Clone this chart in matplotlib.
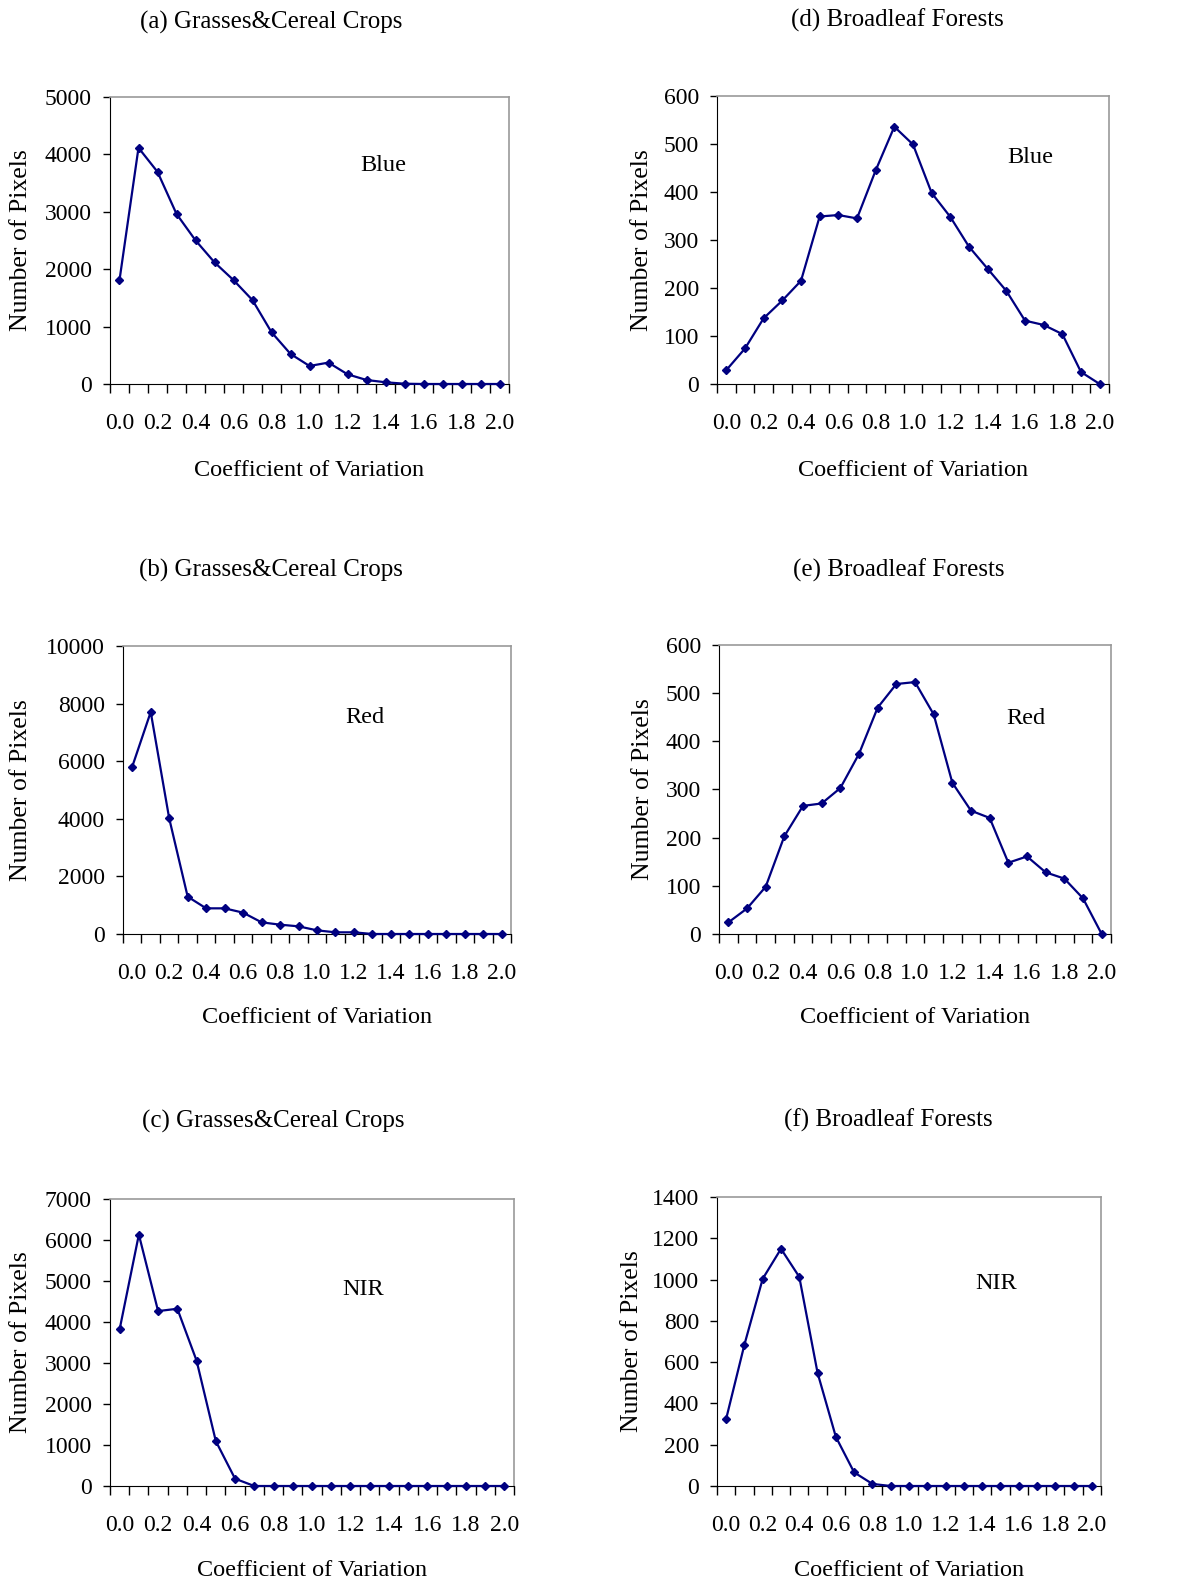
import matplotlib.pyplot as plt
import numpy as np

plt.rcParams['font.family'] = ['Liberation Serif', 'DejaVu Serif']

W, H = 1189, 1585

cv_labels = ["0.0", "0.2", "0.4", "0.6", "0.8", "1.0", "1.2", "1.4", "1.6", "1.8", "2.0"]
n_bins = 21  # CV classes 0.0, 0.1, ... 2.0

# Grasses & cereal crops
grass_blue = [1810, 4115, 3696, 2963, 2503, 2119, 1810, 1461, 902, 524, 314,
              373, 169, 70, 30, 5, 0, 0, 0, 0, 0]
grass_red = [5810, 7708, 4016, 1296, 891, 891, 741, 405, 324, 266, 127,
             58, 58, 0, 0, 0, 0, 0, 0, 0, 0]
grass_nir = [3820, 6132, 4266, 4323, 3058, 1095, 178, 0, 0, 0, 0,
             0, 0, 0, 0, 0, 0, 0, 0, 0, 0]

# Broadleaf forests
forest_blue = [29, 74, 137, 174, 215, 349, 352, 345, 445, 536, 499,
               398, 348, 286, 240, 194, 132, 123, 104, 25, 0]
forest_red = [24, 53, 98, 203, 266, 271, 303, 374, 470, 519, 523,
              456, 314, 256, 241, 148, 161, 128, 115, 74, 0]
forest_nir = [325, 685, 1004, 1149, 1013, 548, 238, 66, 10, 0, 0,
              0, 0, 0, 0, 0, 0, 0, 0, 0, 0]

panels = [
    # title, band, data, ymax, ystep, box (l, r, top, bottom px), title pos, band pos, ylabel x, xlabel y
    ("(a) Grasses&Cereal Crops", "Blue", grass_blue, 5000, 1000, (110, 509, 97, 384), (271, 22), (0.684, 0.763), 21, 470),
    ("(b) Grasses&Cereal Crops", "Red", grass_red, 10000, 2000, (123, 511, 646, 934), (271, 570), (0.624, 0.753), 21, 1018),
    ("(c) Grasses&Cereal Crops", "NIR", grass_nir, 7000, 1000, (110, 514, 1199, 1486), (273, 1121), (0.626, 0.686), 21, 1570),
    ("(d) Broadleaf Forests", "Blue", forest_blue, 600, 100, (717, 1109, 96, 384), (897, 20), (0.798, 0.788), 642, 470),
    ("(e) Broadleaf Forests", "Red", forest_red, 600, 100, (719, 1111, 645, 934), (899, 570), (0.783, 0.747), 643, 1018),
    ("(f) Broadleaf Forests", "NIR", forest_nir, 1400, 200, (717, 1101, 1197, 1486), (888, 1120), (0.727, 0.699), 632, 1570),
]

fig = plt.figure(figsize=(W / 100, H / 100), dpi=100)

for title, band, vals, ymax, ystep, box, tpos, bpos, ylx, xly in panels:
    l, r, t, b = box
    ax = fig.add_axes([l / W, 1 - b / H, (r - l) / W, (b - t) / H])
    x = np.arange(n_bins)
    ax.plot(x, vals, color="#000080", lw=1.6, marker="D", ms=4.3, clip_on=False, zorder=3)

    ax.set_xlim(-0.5, n_bins - 0.5)
    ax.set_ylim(0, ymax)
    ax.set_yticks(np.arange(0, ymax + 1, ystep))

    # category boundaries carry the tick marks, labels sit on every other class
    ax.set_xticks(np.arange(-0.5, n_bins, 1.0))
    ax.set_xticklabels([])
    ax.set_xticks(np.arange(0, n_bins, 2), minor=True)
    ax.set_xticklabels(cv_labels, minor=True)
    ax.tick_params(axis="x", which="major", direction="out", length=6.5, width=1)
    ax.tick_params(axis="x", which="minor", length=0, pad=21, labelsize=17)
    ax.tick_params(axis="y", direction="out", length=5, width=1, pad=8, labelsize=17)

    for side in ("top", "right"):
        ax.spines[side].set_color("#999999")
        ax.spines[side].set_linewidth(1.2)
    for side in ("left", "bottom"):
        ax.spines[side].set_color("black")

    ax.set_ylabel("Number of Pixels", fontsize=18.5)
    ax.yaxis.set_label_coords((ylx - l) / (r - l), 0.5)
    ax.set_xlabel("Coefficient of Variation", fontsize=17.5)
    ax.xaxis.set_label_coords(0.5, (b - xly) / (b - t))
    ax.xaxis.label.set_va("center")
    ax.yaxis.label.set_va("center")

    ax.text(bpos[0], bpos[1], band, transform=ax.transAxes, fontsize=17.5,
            ha="center", va="center")
    fig.text(tpos[0] / W, 1 - tpos[1] / H, title, fontsize=18, ha="center", va="center")

fig.savefig("out.png", dpi=100)
